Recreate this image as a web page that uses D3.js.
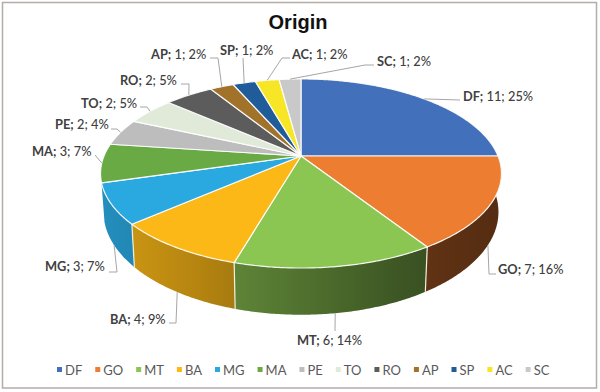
<!DOCTYPE html>
<html>
<head>
<meta charset="utf-8">
<script src="https://cdn.jsdelivr.net/npm/d3@7"></script>
<style>
  html, body { margin: 0; padding: 0; background: #fff; }
  svg { display: block; font-family: Lato, "Open Sans", sans-serif; }
</style>
</head>
<body>
<div id="chart"></div>
<script>
const categories = ["DF", "GO", "MT", "BA", "MG", "MA", "PE", "TO", "RO", "AP", "SP", "AC", "SC"];
const counts = [11, 7, 6, 4, 3, 3, 2, 2, 2, 1, 1, 1, 1];
const percents = [25, 16, 14, 9, 7, 7, 4, 5, 5, 2, 2, 2, 2];
// slice sizes (the labels are rounded)
const shares = [25, 15.9, 13.6, 9.1, 6.9, 6.6, 4.6, 4.7, 4.7, 2.3, 2.2, 2.3, 2.1];
const colors = ["#4270ba", "#ed7d31", "#8cc652", "#fbb817", "#2aa8e0", "#6aaa45", "#bdbdbd", "#e1ead9", "#5c5c5c", "#a0722a", "#1f5c99", "#f7e625", "#c9c9c9"];
// only these slices show a side wall
const frontWall = ["GO", "MT", "BA", "MG"];

const width = 600,
  height = 392;

// perspective of the tilted pie, fitted on the top face
const cx = 301, cy = 156, rx = 197, ry = 91.3, tilt = 0.185;
// lower rim of the wall, fitted the same way
const depth = 37, bottomX = 0.985, bottomY = 1.087;

const project = (a, sx = 1, sy = 1, dy = 0) => {
  const x = Math.sin(a), y = -Math.cos(a), w = 1 - tilt * y;
  return [cx + sx * rx * x / w, cy + dy + sy * ry * y / w];
};
const projectBottom = a => project(a, bottomX, bottomY, depth);

const svg = d3.select("#chart")
  .append("svg")
  .attr("width", width)
  .attr("height", height)
  .attr("viewBox", [0, 0, width, height]);

const color = d3.scaleOrdinal(categories, colors);
const slices = d3.pie().sort(null).value(d => d)(shares);
slices.forEach((d, i) => d.cat = categories[i]);
const frontSlices = slices.filter(d => frontWall.includes(d.cat));

const arcAngles = d => {
  const n = Math.ceil((d.endAngle - d.startAngle) / 0.01);
  return d3.range(n + 1).map(j => d.startAngle + (d.endAngle - d.startAngle) * j / n);
};
const line = d3.line();

svg.append("rect")
  .attr("x", 2.5).attr("y", 2.5)
  .attr("width", 594).attr("height", 385.5)
  .attr("fill", "#fff")
  .attr("stroke", "#b3aca8")
  .attr("stroke-width", 1.5);

svg.append("text")
  .attr("x", 298).attr("y", 29)
  .attr("text-anchor", "middle")
  .attr("font-family", "'Liberation Sans', sans-serif")
  .attr("font-size", 20)
  .attr("font-weight", 700)
  .attr("fill", "#111")
  .text("Origin");

// side wall gets darker from left to right
const shade = d3.scaleLinear().domain([100, 234, 425, 501]).range([0.85, 0.67, 0.4, 0.36]);
const defs = svg.append("defs");
frontSlices.forEach(d => {
  const g = defs.append("linearGradient")
    .attr("id", "side-" + d.cat)
    .attr("gradientUnits", "userSpaceOnUse")
    .attr("x1", 100).attr("x2", 501).attr("y1", 0).attr("y2", 0);
  d3.range(9).forEach(j => {
    const x = 100 + 401 * j / 8, c = d3.rgb(color(d.cat)), f = shade(x);
    g.append("stop")
      .attr("offset", j / 8)
      .attr("stop-color", d3.rgb(c.r * f, c.g * f, c.b * f).formatHex());
  });
});

svg.append("g")
  .selectAll("path")
  .data(frontSlices)
  .join("path")
  .attr("fill", d => `url(#side-${d.cat})`)
  .attr("d", d => {
    const top = arcAngles(d).map(a => project(a));
    const bottom = arcAngles(d).reverse().map(projectBottom);
    return line(top.concat(bottom)) + "Z";
  });

// pale seams between the wall pieces
svg.append("g")
  .attr("stroke", "#f3eedd")
  .attr("stroke-width", 1.2)
  .selectAll("path")
  .data(frontSlices.slice(1))
  .join("path")
  .attr("d", d => line([project(d.startAngle), projectBottom(d.startAngle)]));

svg.append("g")
  .selectAll("path")
  .data(slices)
  .join("path")
  .attr("fill", d => color(d.cat))
  .attr("stroke", "#fff")
  .attr("stroke-width", 1.2)
  .attr("stroke-opacity", 0.9)
  .attr("stroke-linejoin", "round")
  .attr("d", d => line([[cx, cy]].concat(arcAngles(d).map(a => project(a)))) + "Z");

// where each label sits and how its leader bends (left edge, baseline, elbows)
const labelX = [463, 498, 297, 110, 45, 32, 55, 81, 120, 151, 220, 292, 377];
const labelY = [101, 274, 345, 324, 271, 156, 129, 108, 85, 59, 55, 59, 66];
const elbows = [
  [[460, 100]],
  [[489, 274], [496, 274]],
  [[335, 331]],
  [[176, 323], [169, 323]],
  [[117, 272], [109, 272]],
  [[95, 155]],
  [[117, 129], [111, 129]],
  [[147, 107], [140, 107]],
  [[189, 84], [181, 84]],
  [[218, 58], [210, 58]],
  [[243, 58]],
  [[282, 58], [290, 58]],
  [[365, 65], [374, 65]]
];

svg.append("g")
  .attr("fill", "none")
  .attr("stroke", "#a6a6a6")
  .attr("stroke-width", 1)
  .selectAll("path")
  .data(slices)
  .join("path")
  .attr("d", (d, i) => {
    const mid = (d.startAngle + d.endAngle) / 2;
    const start = frontWall.includes(d.cat) ? projectBottom(mid) : project(mid);
    return line([start].concat(elbows[i]));
  });

const labels = svg.append("g")
  .attr("font-size", 12.8)
  .attr("fill", "#404040")
  .selectAll("text")
  .data(slices)
  .join("text")
  .attr("x", (d, i) => labelX[i])
  .attr("y", (d, i) => labelY[i]);
labels.append("tspan")
  .attr("font-weight", 700)
  .text(d => d.cat + ";");
labels.append("tspan")
  .attr("font-weight", 500)
  .text((d, i) => ` ${counts[i]}; ${percents[i]}%`);

// legend flows along one row
const legend = svg.append("g").attr("font-size", 13).attr("fill", "#595959");
let legendX = 57;
categories.forEach(c => {
  legend.append("rect")
    .attr("x", legendX).attr("y", 367)
    .attr("width", 5).attr("height", 5)
    .attr("fill", color(c));
  const t = legend.append("text")
    .attr("x", legendX + 8).attr("y", 375)
    .text(c);
  legendX += 8 + t.node().getComputedTextLength() + 13;
});
</script>
</body>
</html>
